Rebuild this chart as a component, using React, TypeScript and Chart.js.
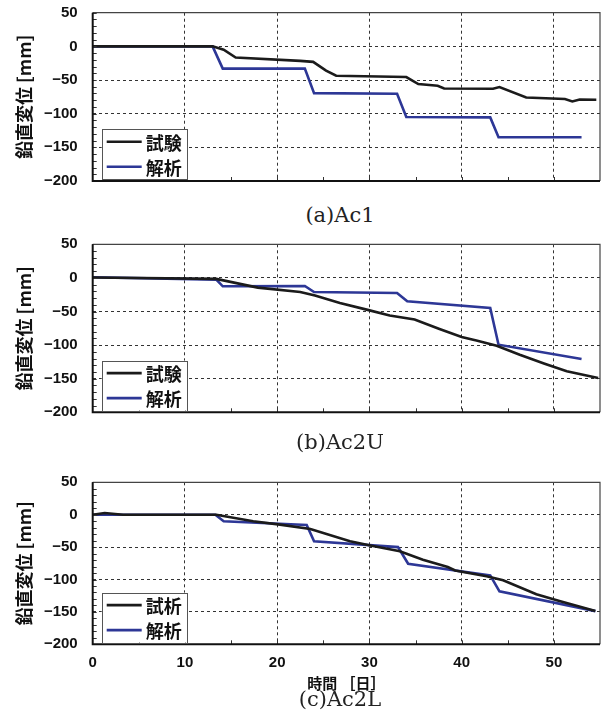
import React, { useEffect, useRef } from 'react';
import { Chart, registerables } from 'chart.js';

Chart.register(...registerables);

// ---- axis ticks ----
const xTickValues = [0, 10, 20, 30, 40, 50];
const yTickValues = [50, 0, -50, -100, -150, -200];

// ---- (a) Ac1 ----
const ac1TestDays = [0, 13.0, 14.2, 15.5, 22.5, 23.9, 25.3, 26.4, 34.0, 35.3, 37.4, 38.1, 43.4, 44.1, 47.0, 51.2, 52.0, 52.8, 54.6];
const ac1TestDisp = [0, 0, -5, -16.5, -21.5, -23, -36, -43.6, -45.6, -56, -58.5, -62.5, -63, -60.5, -76, -78.3, -81.8, -79, -79.3];
const ac1AnaDays = [0, 13.0, 14.1, 23.0, 24.0, 33.0, 34.0, 43.1, 44.0, 53.0];
const ac1AnaDisp = [0, 0, -33, -33, -69.5, -70.5, -105, -105.5, -135, -135];

// ---- (b) Ac2U ----
const ac2uTestDays = [0, 13.4, 17.9, 22.5, 24.1, 26.8, 29.7, 32.2, 34.9, 37.6, 40.0, 41.6, 43.8, 46.3, 49.0, 51.4, 54.8];
const ac2uTestDisp = [0.5, -1.5, -14.5, -21, -26.3, -37.3, -47.2, -56, -62, -76, -88, -93, -101, -114.3, -127.7, -139, -149];
const ac2uAnaDays = [0, 13.4, 14.1, 23.0, 24.0, 33.0, 34.1, 43.1, 44.0, 53.0];
const ac2uAnaDisp = [1, -2.5, -12.5, -12, -21, -22.4, -34.8, -44.7, -99.4, -120.7];

// ---- (c) Ac2L ----
const ac2lTestDays = [0, 1.3, 3.3, 13.4, 17.4, 20.3, 23.6, 27.9, 30.1, 33.3, 35.8, 38.5, 39.3, 42.7, 44.5, 48.1, 50.6, 54.5];
const ac2lTestDisp = [0, 2.6, 0, 0, -10, -15.3, -22, -41, -47.6, -56.3, -69.6, -80.8, -86, -95, -101.3, -122.8, -133, -148.8];
const ac2lAnaDays = [0, 13.3, 14.2, 23.2, 24.0, 33.1, 34.2, 43.1, 44.1, 54.5];
const ac2lAnaDisp = [0, 0, -10, -15.9, -41, -50, -75.7, -93.6, -118.2, -148.8];

const yTitle = '鉛直変位 [mm]';
const xTitle = '時間 ［日］';
const anaLabel = '解析';

const BLACK = '#1b1b1b';
const BLUE = '#2d3796';
const FONT = "'Noto Sans CJK JP', 'Noto Sans', sans-serif";
const NUM_FONT = "'Liberation Sans', Arial, sans-serif";

const zip = (xs: number[], ys: number[]) => xs.map((x, i) => ({ x, y: ys[i] }));
const fmt = (v: number) => (v < 0 ? '\u2212' + Math.abs(v) : String(v));

const framePlugin = {
  id: 'frameTicks',
  afterDatasetsDraw(chart: any) {
    const { ctx, chartArea: a, scales } = chart;
    const xs = scales.x;
    const ys = scales.y;
    ctx.save();
    ctx.strokeStyle = '#333';
    ctx.lineWidth = 1;
    ctx.beginPath();
    for (let v = -200; v <= 50; v += 10) {
      const py = Math.round(ys.getPixelForValue(v)) + 0.5;
      ctx.moveTo(a.left, py);
      ctx.lineTo(a.left + 4, py);
    }
    for (let v = 5; v < 55; v += 5) {
      const px = Math.round(xs.getPixelForValue(v)) + 0.5;
      ctx.moveTo(px, a.bottom);
      ctx.lineTo(px, a.bottom - 4);
    }
    ctx.stroke();
    ctx.strokeStyle = '#444';
    ctx.lineWidth = 1.2;
    ctx.beginPath();
    ctx.moveTo(a.left, a.top);
    ctx.lineTo(a.right, a.top);
    ctx.lineTo(a.right, a.bottom);
    ctx.stroke();
    ctx.strokeStyle = '#111';
    ctx.lineWidth = 2;
    ctx.beginPath();
    ctx.moveTo(a.left, a.top);
    ctx.lineTo(a.left, a.bottom);
    ctx.lineTo(a.right, a.bottom);
    ctx.stroke();
    ctx.restore();
  },
};

const boxLegendPlugin = {
  id: 'boxLegend',
  afterDraw(chart: any) {
    const { ctx, chartArea: a } = chart;
    const w = 85;
    const h = 50;
    const x = a.left + 9;
    const y = a.bottom - 1.7 - h;
    ctx.save();
    ctx.fillStyle = '#ffffff';
    ctx.fillRect(x, y, w, h);
    ctx.strokeStyle = '#555';
    ctx.lineWidth = 1;
    ctx.strokeRect(Math.round(x) + 0.5, Math.round(y) + 0.5, w, h);
    chart.data.datasets.forEach((ds: any, i: number) => {
      const ly = y + 12.5 + i * 25;
      ctx.strokeStyle = ds.borderColor;
      ctx.lineWidth = ds.borderWidth;
      ctx.beginPath();
      ctx.moveTo(x + 5, ly);
      ctx.lineTo(x + 40, ly);
      ctx.stroke();
      ctx.fillStyle = '#111';
      ctx.font = `bold 18px ${FONT}`;
      ctx.textBaseline = 'middle';
      ctx.textAlign = 'left';
      ctx.fillText(ds.label, x + 44, ly + 1);
    });
    ctx.restore();
  },
};

type PanelProps = {
  top: number;
  height: number;
  padTop: number;
  xHeight: number;
  showX: boolean;
  testLabel: string;
  testDays: number[];
  testDisp: number[];
  anaDays: number[];
  anaDisp: number[];
};

function Panel(p: PanelProps) {
  const ref = useRef<HTMLCanvasElement | null>(null);
  useEffect(() => {
    if (!ref.current) return;
    const gridCommon = { color: '#333', lineWidth: 1, drawTicks: false };
    const chart = new Chart(ref.current, {
      type: 'line',
      data: {
        datasets: [
          {
            label: p.testLabel,
            data: zip(p.testDays, p.testDisp),
            borderColor: BLACK,
            backgroundColor: BLACK,
            borderWidth: 2.6,
            pointRadius: 0,
            tension: 0,
            fill: false,
          },
          {
            label: anaLabel,
            data: zip(p.anaDays, p.anaDisp),
            borderColor: BLUE,
            backgroundColor: BLUE,
            borderWidth: 2.6,
            pointRadius: 0,
            tension: 0,
            fill: false,
          },
        ],
      },
      options: {
        animation: false,
        responsive: false,
        maintainAspectRatio: false,
        devicePixelRatio: 1,
        layout: { padding: { left: 0, right: 12, top: p.padTop, bottom: 0 } },
        plugins: {
          legend: { display: false },
          tooltip: { enabled: false },
        },
        scales: {
          x: {
            type: 'linear',
            min: 0,
            max: 55,
            afterBuildTicks: (s: any) => {
              s.ticks = xTickValues.map((v) => ({ value: v }));
            },
            afterFit: (s: any) => {
              s.height = p.xHeight;
              s.paddingLeft = 0;
              s.paddingRight = 0;
              s.paddingTop = 0;
              s.paddingBottom = 0;
            },
            grid: gridCommon,
            border: { display: false, dash: [3, 3] },
            ticks: {
              display: p.showX,
              padding: 10,
              maxRotation: 0,
              color: '#111',
              font: { family: NUM_FONT, size: 15, weight: 'bold' },
            },
            title: {
              display: p.showX,
              text: xTitle,
              color: '#111',
              font: { family: FONT, size: 15, weight: 'bold' },
              padding: { top: 0, bottom: 7.7 },
            },
          },
          y: {
            type: 'linear',
            min: -200,
            max: 50,
            afterBuildTicks: (s: any) => {
              s.ticks = yTickValues.map((v) => ({ value: v }));
            },
            afterFit: (s: any) => {
              s.width = 92.7;
              s.paddingLeft = 0;
              s.paddingRight = 0;
              s.paddingTop = 0;
              s.paddingBottom = 0;
            },
            grid: gridCommon,
            border: { display: false, dash: [3, 3] },
            ticks: {
              padding: 15,
              color: '#111',
              font: { family: NUM_FONT, size: 15, weight: 'bold' },
              callback: (v: any) => fmt(Number(v)),
            },
            title: {
              display: true,
              text: yTitle,
              color: '#111',
              font: { family: FONT, size: 18, weight: 'bold' },
              padding: { top: 13, bottom: 0 },
            },
          },
        },
      } as any,
      plugins: [framePlugin, boxLegendPlugin],
    });
    return () => chart.destroy();
  }, []);
  return (
    <canvas
      ref={ref}
      width={612}
      height={p.height}
      style={{ position: 'absolute', left: 0, top: p.top, width: 612, height: p.height }}
    />
  );
}

const captionStyle = (centerY: number): React.CSSProperties => ({
  position: 'absolute',
  left: 240,
  width: 200,
  top: centerY - 12,
  height: 24,
  lineHeight: '24px',
  textAlign: 'center',
  fontFamily: "'DejaVu Serif', 'Liberation Serif', serif",
  fontSize: 21,
  color: '#222',
});

export default function App() {
  return (
    <div style={{ position: 'absolute', left: 0, top: 0, width: 612, height: 720, background: '#fff', overflow: 'hidden' }}>
      <Panel top={0} height={200} padTop={12.7} xHeight={19} showX={false} testLabel="試験"
        testDays={ac1TestDays} testDisp={ac1TestDisp} anaDays={ac1AnaDays} anaDisp={ac1AnaDisp} />
      <div style={captionStyle(215)}>(a)Ac1</div>
      <Panel top={232} height={200} padTop={12.3} xHeight={19.7} showX={false} testLabel="試験"
        testDays={ac2uTestDays} testDisp={ac2uTestDisp} anaDays={ac2uAnaDays} anaDisp={ac2uAnaDisp} />
      <div style={captionStyle(442)}>(b)Ac2U</div>
      <Panel top={470} height={230} padTop={12.3} xHeight={55.7} showX={true} testLabel="試析"
        testDays={ac2lTestDays} testDisp={ac2lTestDisp} anaDays={ac2lAnaDays} anaDisp={ac2lAnaDisp} />
      <div style={captionStyle(699)}>(c)Ac2L</div>
    </div>
  );
}
